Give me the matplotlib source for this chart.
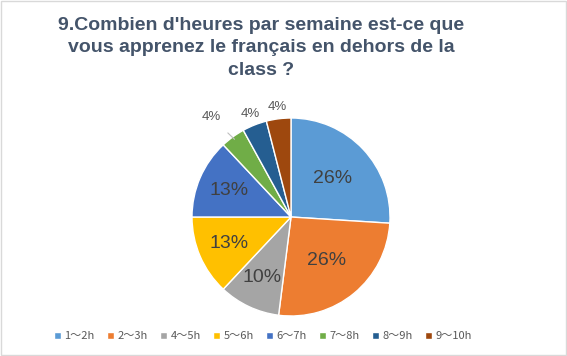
import numpy as np
import matplotlib.pyplot as plt
from matplotlib.patches import Rectangle

plt.rcParams['font.family'] = ['Liberation Sans', 'DejaVu Sans']

# data
labels = ['1～2h', '2～3h', '4～5h', '5～6h', '6～7h', '7～8h', '8～9h', '9～10h']
values = [26, 26, 10, 13, 13, 4, 4, 4]
colors = ['#5B9BD5', '#ED7D31', '#A5A5A5', '#FFC000', '#4472C4', '#70AD47', '#255E91', '#9E480E']
title = "9.Combien d'heures par semaine est-ce que\nvous apprenez le français en dehors de la\nclass ?"

W, H = 567, 356
fig = plt.figure(figsize=(W / 100, H / 100), dpi=100)
fig.patch.set_facecolor('white')
fig.patches.append(Rectangle((0.002, 0.003), 0.996, 0.994, transform=fig.transFigure,
                             fill=False, edgecolor='#D9D9D9', linewidth=1))

# pie centre ~ (291, 217) px, radius ~99 px
cx, cy, r = 291, 217, 99
ax = fig.add_axes([(cx - r) / W, (H - cy - r) / H, 2 * r / W, 2 * r / H])

wedges, _ = ax.pie(values, colors=colors, startangle=90, counterclock=False, radius=1,
                   wedgeprops=dict(edgecolor='white', linewidth=1))
ax.set_xlim(-1, 1)
ax.set_ylim(-1, 1)
ax.set_aspect('equal')
ax.axis('off')

total = sum(values)
start = 90
for i, v in enumerate(values):
    ang = start - v / total * 360 / 2
    start -= v / total * 360
    a = np.deg2rad(ang)
    txt = '%d%%' % v
    if v >= 10:
        d = 0.57 if v > 20 else 0.68
        ax.text(d * np.cos(a), d * np.sin(a), txt, ha='center', va='center',
                fontsize=14, color='#404040', clip_on=False)
    else:
        d = 1.28 if i == 5 else 1.12
        x, y = d * np.cos(a), d * np.sin(a)
        if i == 5:
            ax.annotate(txt, xy=(0.97 * np.cos(a), 0.97 * np.sin(a)), xytext=(x - 0.05, y - 0.03),
                        ha='center', va='center', fontsize=9.5, color='#595959',
                        arrowprops=dict(arrowstyle='-', color='#BFBFBF', lw=0.8,
                                        shrinkA=7, shrinkB=0), annotation_clip=False)
        else:
            ax.text(x, y, txt, ha='center', va='center', fontsize=9.5, color='#595959',
                    clip_on=False)

fig.text(261 / W, 1 - 48 / H, title, ha='center', va='center', fontsize=14,
         fontweight='bold', color='#44546A', linespacing=1.45)

leg = fig.legend(wedges, labels, loc='center', bbox_to_anchor=(263 / W, 1 - 336 / H), ncol=8,
                 frameon=False, handlelength=0.6, handleheight=0.6, handletextpad=0.3,
                 columnspacing=1.15,
                 prop=dict(family=['Noto Sans CJK SC', 'DejaVu Sans'], size=8))
for t in leg.get_texts():
    t.set_color('#595959')

fig.savefig('out.png', dpi=100)
